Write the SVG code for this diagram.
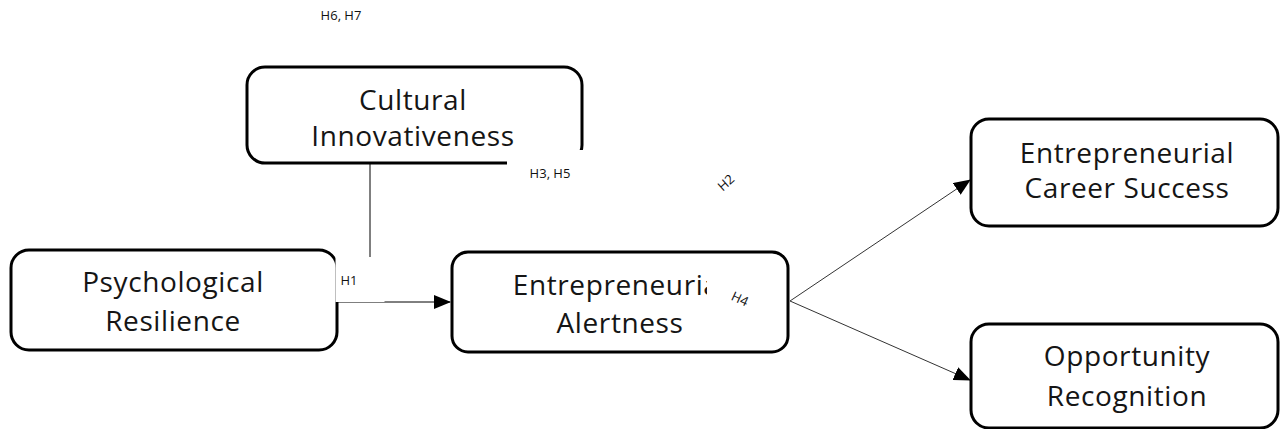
<svg xmlns="http://www.w3.org/2000/svg" width="1280" height="429" viewBox="0 0 1280 429">
<style>
.box{fill:#fff;stroke:#000;stroke-width:3}
.t{font-family:"Open Sans","Noto Sans",sans-serif;font-size:28px;fill:#151515;text-anchor:middle;letter-spacing:0.6px}
.lbl{font-family:"Open Sans","Noto Sans",sans-serif;font-size:13px;fill:#111;text-anchor:middle}
.cover{fill:#fff}
.ln{stroke:#000;stroke-width:1;fill:none}
.ln2{stroke:#333;stroke-width:1;fill:none}
</style>
<defs>
<marker id="ah" markerWidth="17" markerHeight="14" refX="16" refY="7" orient="auto" markerUnits="userSpaceOnUse">
<path d="M0,0 L17,7 L0,14 z" fill="#000"/>
</marker>
</defs>
<rect width="1280" height="429" fill="#fff"/>
<g id="node-cultural">
<rect class="box" x="247" y="67" width="335" height="96" rx="18"/>
<text class="t" x="413" y="110">Cultural</text>
<text class="t" x="413" y="146">Innovativeness</text>
</g>
<g id="node-psych">
<rect class="box" x="11" y="250" width="326" height="100" rx="18"/>
<text class="t" x="173" y="292">Psychological</text>
<text class="t" x="173" y="331">Resilience</text>
</g>
<g id="node-alert">
<rect class="box" x="452" y="252" width="336" height="100" rx="16"/>
<text class="t" x="620" y="295">Entrepreneurial</text>
<text class="t" x="620" y="333">Alertness</text>
</g>
<g id="node-career">
<rect class="box" x="971" y="119" width="307" height="107" rx="18"/>
<text class="t" x="1127" y="163">Entrepreneurial</text>
<text class="t" x="1127" y="198">Career Success</text>
</g>
<g id="node-opp">
<rect class="box" x="971" y="324" width="307" height="104" rx="18"/>
<text class="t" x="1127" y="366">Opportunity</text>
<text class="t" x="1127" y="406">Recognition</text>
</g>
<g id="connectors">
<line class="ln" x1="370" y1="164" x2="370" y2="258"/>
<line class="ln" x1="338" y1="302" x2="450" y2="302" marker-end="url(#ah)"/>
<line class="ln2" x1="790" y1="301" x2="970" y2="180" marker-end="url(#ah)"/>
<line class="ln2" x1="790" y1="301" x2="970" y2="380" marker-end="url(#ah)"/>
</g>
<g id="labels">
<rect class="cover" x="507" y="150" width="90" height="40"/>
<text class="lbl" x="550" y="178">H3, H5</text>
<rect class="cover" x="335.5" y="257" width="49" height="45"/>
<text class="lbl" x="349" y="285">H1</text>
<rect class="cover" x="707" y="268" width="74" height="40"/>
<text class="lbl" transform="translate(738,303) rotate(25)" x="0" y="0">H4</text>
<text class="lbl" transform="translate(729,186) rotate(-42)" x="0" y="0">H2</text>
<text class="lbl" x="341" y="20">H6, H7</text>
</g>
</svg>
